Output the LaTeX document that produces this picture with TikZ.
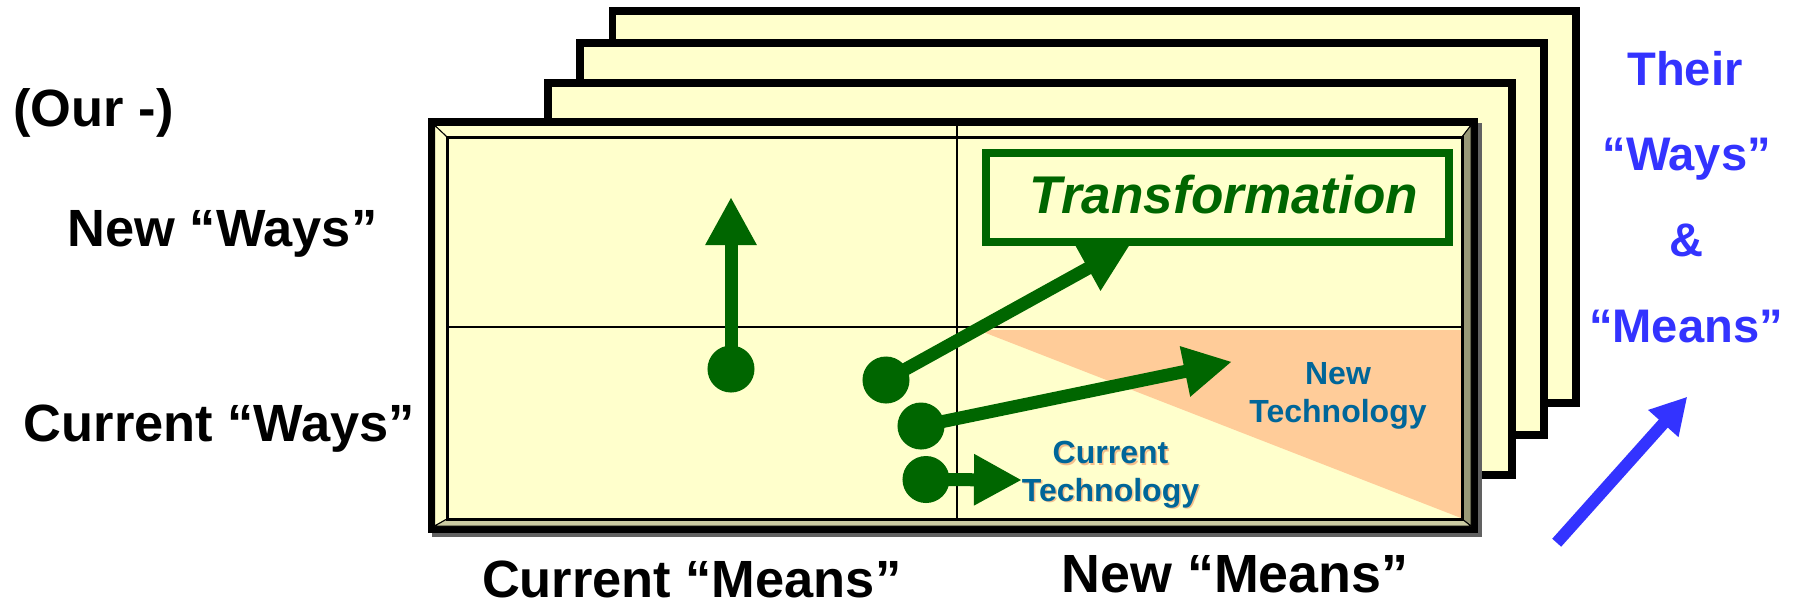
\documentclass[tikz,border=0pt]{standalone}
\usepackage{fontspec}
\setmainfont{Liberation Sans}
\usetikzlibrary{arrows.meta}
\definecolor{paper}{HTML}{FFFFCC}
\definecolor{leafgreen}{HTML}{006600}
\definecolor{techblue}{HTML}{006699}
\definecolor{peach}{HTML}{FFCC99}
\definecolor{peachshadow}{HTML}{F4BE8C}
\definecolor{bevdark}{HTML}{999977}
\definecolor{bevlight}{HTML}{CCCCA3}
\definecolor{theirblue}{HTML}{3333FF}

\begin{document}
\begin{tikzpicture}[x=0.01cm,y=-0.01cm,
  sheet/.style={fill=paper,draw=black,line width=0.075cm},
  bevel/.style={draw=black,line width=0.01cm},
  dot/.style={circle,fill=leafgreen,minimum size=0.47cm,inner sep=0pt},
  garrow/.style={draw=leafgreen,line width=0.13cm,-{Triangle[length=0.48cm,width=0.48cm]}},
  axislabel/.style={anchor=base,inner sep=0pt,font=\fontsize{14.9pt}{16pt}\selectfont\bfseries},
  theirlabel/.style={anchor=base,inner sep=0pt,text=theirblue,font=\fontsize{13.4pt}{15pt}\selectfont\bfseries},
  techlabel/.style={inner sep=0pt,align=center,font=\fontsize{9.1pt}{10.6pt}\selectfont\bfseries},
]
\useasboundingbox (0,0) rectangle (1796,605);

% stacked sheets behind the board
\draw[sheet] (612.4,11) rectangle (1576.2,403.2);
\draw[sheet] (579.8,43) rectangle (1544.2,435.2);
\draw[sheet] (547.8,83) rectangle (1512.2,475.2);

% board: drop shadow, frame and bevels
\fill[black!62] (432,123) rectangle (1482,537);
\draw[fill=paper,draw=black,line width=0.07cm] (431.1,121.8) rectangle (1474.5,529.5);
\draw[bevel,fill=paper] (434.6,125.3) -- (1471,125.3) -- (1462,137) -- (447,137) -- cycle;
\draw[bevel,fill=paper] (434.6,125.3) -- (447,137) -- (447,519) -- (434.6,526) -- cycle;
\draw[bevel,fill=bevdark] (1471,125.3) -- (1471,526) -- (1462,519) -- (1462,137) -- cycle;
\draw[bevel,fill=bevlight] (434.6,526) -- (447,519) -- (1462,519) -- (1471,526) -- cycle;

% board face with the technology wedge
\fill[paper] (447,137) rectangle (1462,519);
\fill[peach] (978,330) -- (1461,330) -- (1461,518) -- cycle;
\draw[line width=0.025cm] (957,125.3) -- (957,519);
\draw[line width=0.025cm] (447,327) -- (1462,327);
\draw[line width=0.03cm] (447,137) rectangle (1462,519);

% technology labels
\node[techlabel,text=peachshadow] (ctsh) at (1112,476.5) {Current\\Technology};
\node[techlabel,text=techblue] (ct) at (1110.5,474.7) {Current\\Technology};
\node[techlabel,text=techblue] (nt) at (1338,395.8) {New\\Technology};

% starting points and arrow targets
\node[dot] (d1) at (731,369) {};
\node[dot] (d2) at (886,380) {};
\node[dot] (d3) at (921,426) {};
\node[dot] (d4) at (926,479.5) {};
\coordinate (t1) at (731,197);
\coordinate (t2) at (1130,245);
\coordinate (t3) at (1232,361.7);
\coordinate (t4) at (1022,480);

\draw[garrow] (d1.center) -- (t1);
\draw[garrow] (d2.center) -- (t2);
\draw[garrow] (d3.center) -- (t3);
\draw[garrow] (d4.center) -- (t4);

% transformation box
\node[draw=leafgreen,line width=0.08cm,fill=paper,minimum width=4.63cm,minimum height=0.89cm,inner sep=0pt] (tbox) at (1217.5,197.5) {};
\node[anchor=base,inner sep=0pt,text=leafgreen,font=\fontsize{15.1pt}{17pt}\selectfont\bfseries\itshape] (ttext) at (1224,213.3) {Transformation};

% axis labels
\node[axislabel] (our) at (93.5,126.7) {(Our -)};
\node[axislabel] (newways) at (222.5,246.7) {New “Ways”};
\node[axislabel] (curways) at (219.5,441.7) {Current “Ways”};
\node[axislabel] (curmeans) at (691.7,597.5) {Current “Means”};
\node[axislabel,font=\fontsize{15.3pt}{16pt}\selectfont\bfseries] (newmeans) at (1235,592) {New “Means”};

% their ways and means
\node[theirlabel] (their) at (1685,85) {Their};
\node[theirlabel] (tways) at (1686.7,170) {“Ways”};
\node[theirlabel] (tamp) at (1686.7,256.7) {\&};
\node[theirlabel] (tmeans) at (1686,342.7) {“Means”};
\coordinate (bt) at (1556.7,542.7);
\coordinate (bh) at (1687.3,396.7);
\draw[draw=theirblue,line width=0.12cm,-{Triangle[length=0.36cm,width=0.38cm]}] (bt) -- (bh);

\end{tikzpicture}
\end{document}
